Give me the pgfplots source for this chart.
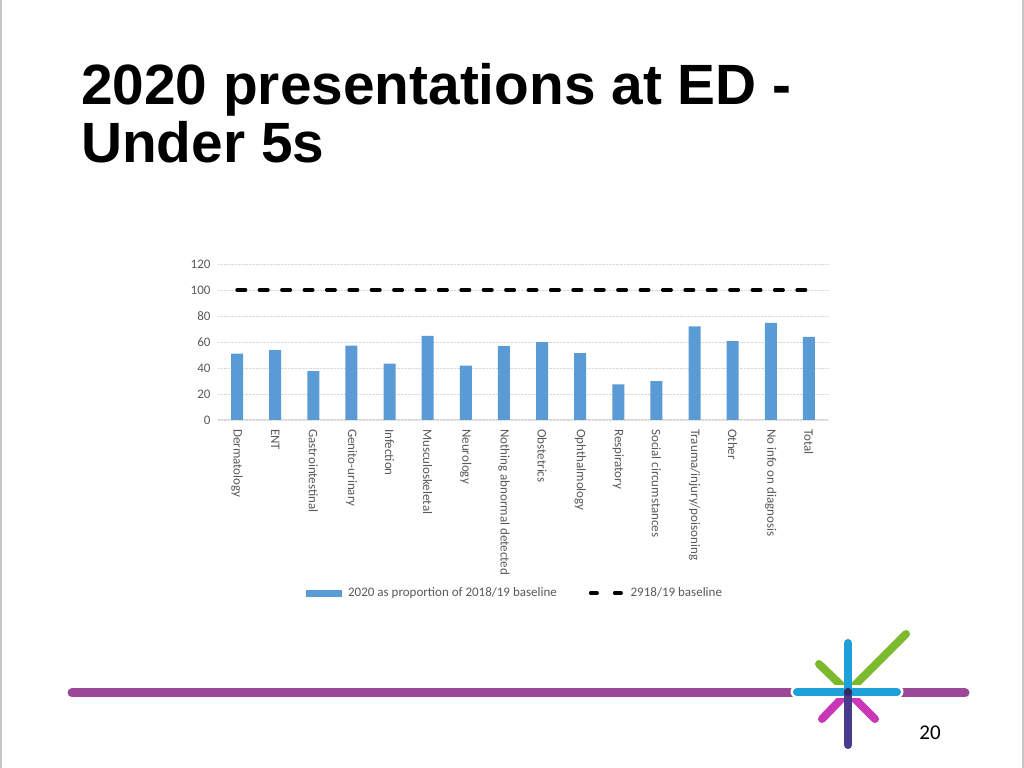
\documentclass[border=0pt]{standalone}
\usepackage{pgfplots}
\pgfplotsset{compat=1.18}
\usepackage{fontspec}
\setmainfont{Carlito}
\newfontfamily\titlefont{Liberation Sans}

\definecolor{barblue}{HTML}{5B9BD5}
\definecolor{ticktext}{HTML}{595959}
\definecolor{gridgray}{HTML}{D9D9D9}
\definecolor{bandpurple}{HTML}{9B4898}
\definecolor{logoblue}{HTML}{1DA1D8}
\definecolor{logogreen}{HTML}{7DB92C}
\definecolor{logomagenta}{HTML}{C837B8}
\definecolor{logodark}{HTML}{4A3A8C}

\begin{document}
\begin{tikzpicture}[x=1bp,y=1bp]
	% slide canvas, 1px = 1bp, y counted from the bottom
	\fill[white] (0,0) rectangle (1024,768);
	\useasboundingbox (0,0) rectangle (1024,768);
	\draw[gray!45, line width=1.5bp] (1,0) -- (1,768);
	\draw[gray!45, line width=1.5bp] (1023,0) -- (1023,768);
	\coordinate (axpos) at (218,348);

	% title (base anchor sits on the last line)
	\node[anchor=base west, inner sep=0pt, align=left,
		font=\titlefont\bfseries\fontsize{56.8bp}{58bp}\selectfont]
		at (81,605) {2020 presentations at ED -\\Under 5s};

	\begin{axis}[
			at={(axpos)},
			anchor=south west,
			scale only axis,
			width=610bp,
			height=156bp,
			xmin=-0.5,
			xmax=15.5,
			ymin=0,
			ymax=120,
			ytick={0,20,...,120},
			xtick=data,
			xticklabels={Dermatology,ENT,Gastrointestinal,Genito-urinary,Infection,Musculoskeletal,Neurology,Nothing abnormal detected,Obstetrics,Ophthalmology,Respiratory,Social circumstances,Trauma/injury/poisoning,Other,No info on diagnosis,Total},
			xticklabel style={rotate=-90, anchor=west, font=\fontsize{13bp}{14bp}\selectfont, text=ticktext, inner sep=0pt},
			xticklabel shift=9bp,
			yticklabel style={font=\fontsize{13bp}{14bp}\selectfont, text=ticktext},
			yticklabel shift=4bp,
			/pgf/number format/assume math mode=true,
			major tick length=0pt,
			axis x line*=bottom,
			axis y line*=left,
			y axis line style={draw=none},
			x axis line style={gridgray, line width=1bp, -},
			ymajorgrids,
			major grid style={gridgray, densely dotted, line width=0.8bp},
			clip=false,
			legend columns=2,
			legend style={at={(0.487,-1.109)}, anchor=center, draw=none, fill=none,
					font=\fontsize{13bp}{14bp}\selectfont, text=ticktext,
					/tikz/every odd column/.append style={column sep=4bp},
					/tikz/every even column/.append style={column sep=30bp}},
		]
		% 2020 as proportion of 2018/19 baseline
		\addplot[ybar, bar width=12bp, fill=barblue, draw=none,
			legend image code/.code={\fill[barblue] (0bp,-3.5bp) rectangle (36bp,3.5bp);}]
		coordinates {
				(0, 51.1)
				(1, 53.7)
				(2, 37.6)
				(3, 57.3)
				(4, 43.4)
				(5, 64.8)
				(6, 41.8)
				(7, 56.9)
				(8, 59.9)
				(9, 51.4)
				(10, 27.4)
				(11, 29.9)
				(12, 72.0)
				(13, 60.6)
				(14, 74.8)
				(15, 64.0)
			};
		\addlegendentry{2020 as proportion of 2018/19 baseline}

		% baseline
		\addplot[black, line width=3.5bp, line cap=round, dash pattern=on 8.5bp off 13.9bp,
			legend image code/.code={\draw[black, line width=3.5bp, line cap=round, dash pattern=on 6.5bp off 17.5bp] (1.75bp,0) -- (34bp,0);}]
		coordinates {
				(0, 100)
				(15, 100)
			};
		\addlegendentry{2918/19 baseline}
	\end{axis}

	% bottom band and logo
	\draw[bandpurple, line width=9bp, line cap=round] (72,75) -- (965,75);
	\draw[logogreen, line width=8bp, line cap=round] (848,76) -- (906,134);
	\draw[logogreen, line width=8bp, line cap=round] (819,104) -- (848,76);
	\draw[logomagenta, line width=8bp, line cap=round] (822,49) -- (848,76) -- (875,49);
	\draw[white, line width=13bp, line cap=round] (797,76) -- (897,76);
	\draw[logoblue, line width=8bp, line cap=round] (797,76) -- (897,76);
	\draw[logoblue, line width=8bp, line cap=round] (848,76) -- (848,125);
	\draw[logodark, line width=8bp, line cap=round] (848,76) -- (848,23);
	\fill[logodark!70!black] (848,76) circle (4bp);

	% page number
	\node[font=\fontsize{21bp}{22bp}\selectfont] at (930,35) {20};
\end{tikzpicture}
\end{document}
